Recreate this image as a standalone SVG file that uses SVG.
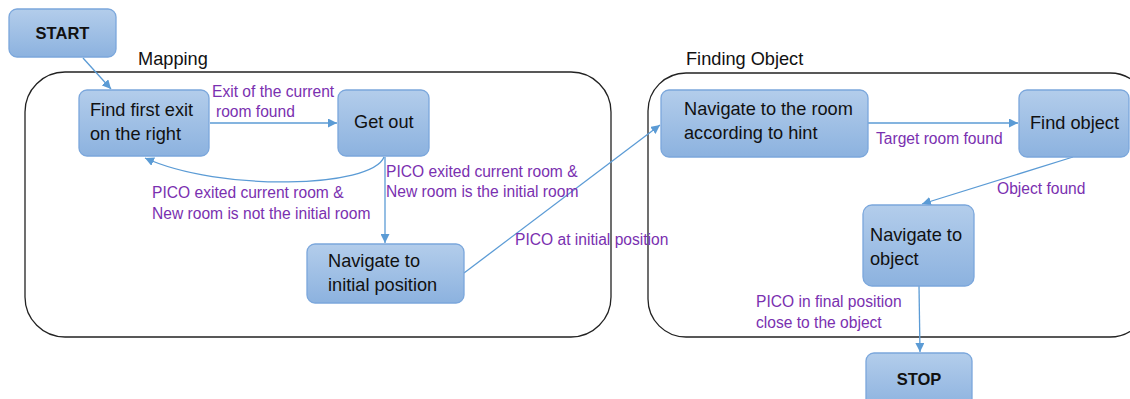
<svg xmlns="http://www.w3.org/2000/svg" width="1130" height="399" viewBox="0 0 1130 399">
<style>
.node{fill:url(#g);stroke:#7ba7dc;stroke-width:1.3}
.cont{fill:none;stroke:#222;stroke-width:1.3}
.t{font-family:"Liberation Sans",Arial,sans-serif;font-size:18.2px;fill:#111}
.b{font-family:"Liberation Sans",Arial,sans-serif;font-size:16.5px;font-weight:bold;fill:#111}
.l{font-family:"Liberation Sans",Arial,sans-serif;font-size:15.6px;fill:#7a30b0}
.h{font-family:"Liberation Sans",Arial,sans-serif;font-size:18.2px;fill:#111}
.c{fill:none;stroke:#5b9bd5;stroke-width:1.3}
</style>
<defs>
<linearGradient id="g" x1="0" y1="0" x2="0" y2="1">
<stop offset="0" stop-color="#b3cdeb"/>
<stop offset="1" stop-color="#8cb2df"/>
</linearGradient>
<marker id="a" viewBox="0 0 10 10" refX="10" refY="5" markerWidth="9" markerHeight="9" markerUnits="userSpaceOnUse" orient="auto">
<path d="M0,0 L10,5 L0,10 z" fill="#5b9bd5"/>
</marker>
</defs>
<g id="mapping">
<rect class="cont" x="25" y="72" width="586" height="265" rx="40"/>
<text class="h" x="138" y="65">Mapping</text>
</g>
<g id="finding">
<rect class="cont" x="648" y="73" width="500" height="264" rx="38"/>
<text class="h" x="686" y="65">Finding Object</text>
</g>
<g id="connectors">
<path class="c" d="M83,58 L111,89" marker-end="url(#a)"/>
<path class="c" d="M210,123 L337,123" marker-end="url(#a)"/>
<path class="c" d="M384,157 C372,188 220,192 145,158" marker-end="url(#a)"/>
<path class="c" d="M385,157 L385,243" marker-end="url(#a)"/>
<path class="c" d="M464,273 L660,125" marker-end="url(#a)"/>
<path class="c" d="M868,123 L1018,123" marker-end="url(#a)"/>
<path class="c" d="M1073,157 L922,204" marker-end="url(#a)"/>
<path class="c" d="M919,286 L920,352" marker-end="url(#a)"/>
<text class="l" x="212" y="97">Exit of the current</text>
<text class="l" x="216" y="117">room found</text>
<text class="l" x="152" y="198">PICO exited current room &amp;</text>
<text class="l" x="152" y="219">New room is not the initial room</text>
<text class="l" x="386" y="177">PICO exited current room &amp;</text>
<text class="l" x="386" y="197">New room is the initial room</text>
<text class="l" x="515" y="245">PICO at initial position</text>
<text class="l" x="876" y="144">Target room found</text>
<text class="l" x="997" y="194">Object found</text>
<text class="l" x="756" y="307">PICO in final position</text>
<text class="l" x="756" y="328">close to the object</text>
</g>
<g id="start">
<rect class="node" x="9" y="9" width="107" height="48" rx="8"/>
<text class="b" x="62.5" y="39" text-anchor="middle">START</text>
</g>
<g id="find-exit">
<rect class="node" x="79" y="90" width="130" height="66" rx="8"/>
<text class="t" x="90" y="116">Find first exit</text>
<text class="t" x="90" y="140">on the right</text>
</g>
<g id="get-out">
<rect class="node" x="338" y="90" width="91" height="66" rx="8"/>
<text class="t" x="354" y="128">Get out</text>
</g>
<g id="nav-initial">
<rect class="node" x="307" y="244" width="157" height="59" rx="8"/>
<text class="t" x="328" y="267">Navigate to</text>
<text class="t" x="328" y="291">initial position</text>
</g>
<g id="nav-room">
<rect class="node" x="661" y="90" width="207" height="67" rx="8"/>
<text class="t" x="684" y="115">Navigate to the room</text>
<text class="t" x="684" y="139">according to hint</text>
</g>
<g id="find-object">
<rect class="node" x="1019" y="90" width="110" height="67" rx="8"/>
<text class="t" x="1030" y="129">Find object</text>
</g>
<g id="nav-object">
<rect class="node" x="863" y="205" width="111" height="81" rx="9"/>
<text class="t" x="870" y="241">Navigate to</text>
<text class="t" x="870" y="265">object</text>
</g>
<g id="stop">
<rect class="node" x="866" y="353" width="106" height="56" rx="8"/>
<text class="b" x="919" y="385" text-anchor="middle">STOP</text>
</g>
</svg>
